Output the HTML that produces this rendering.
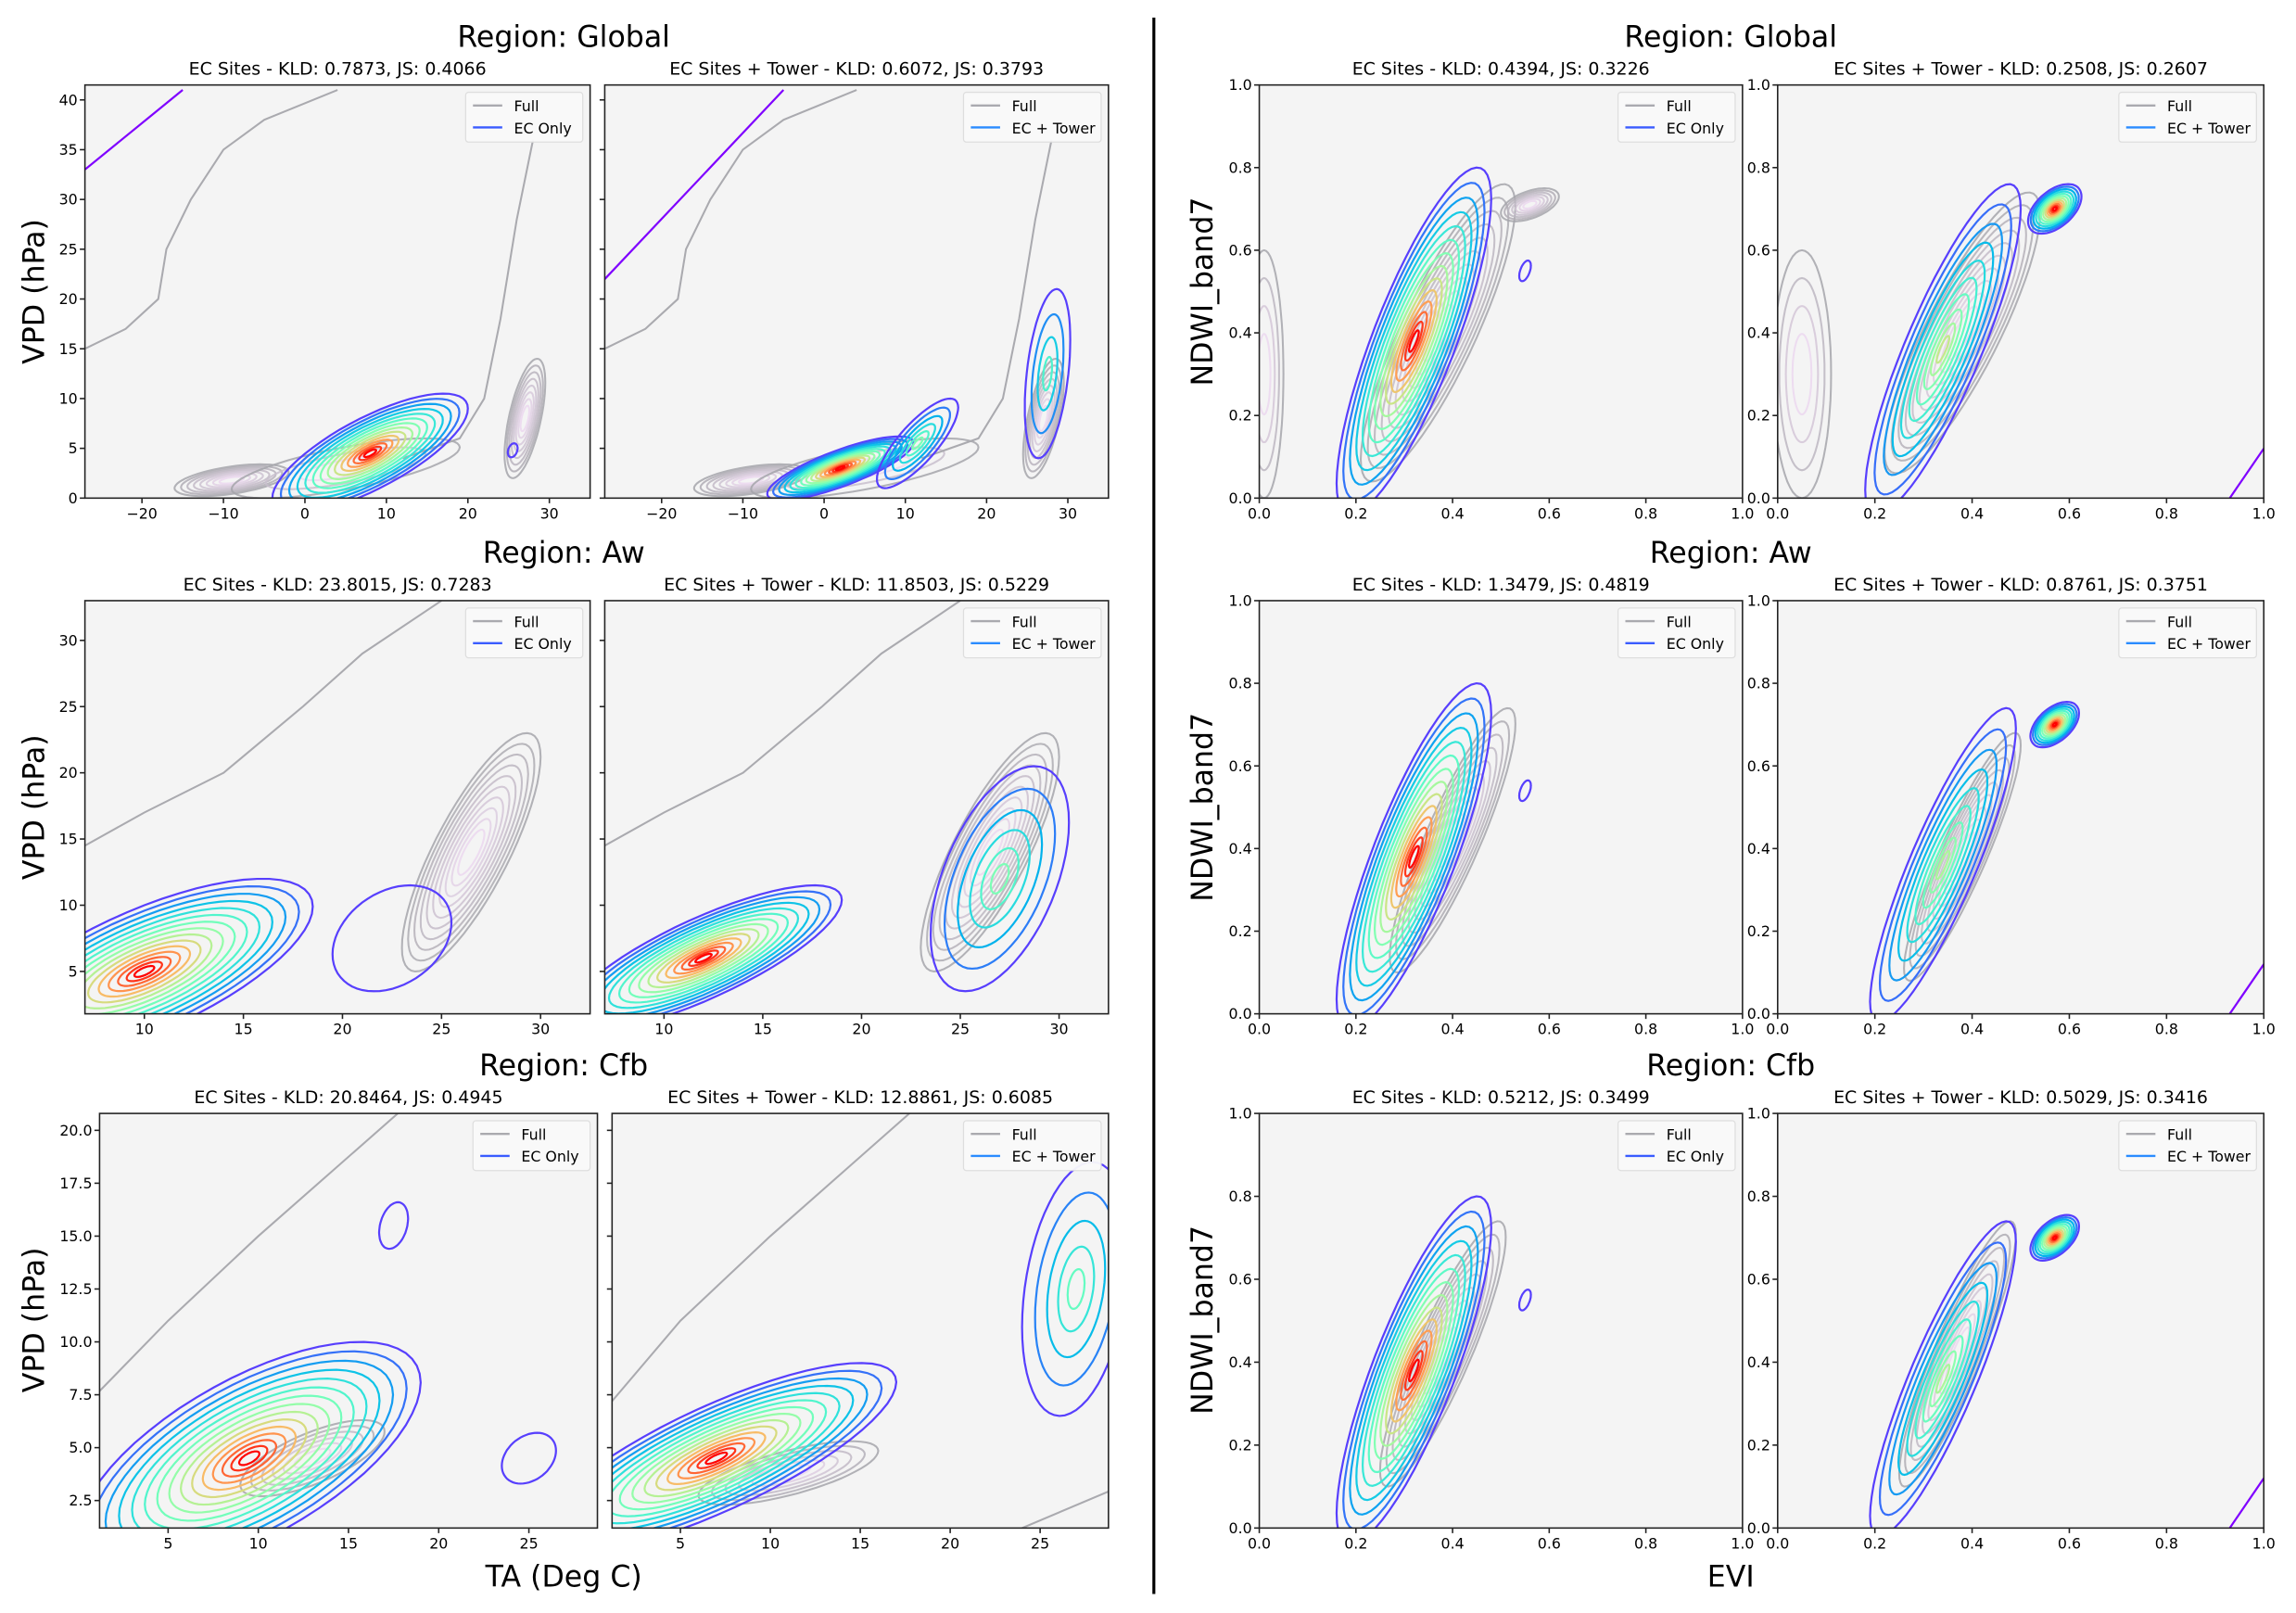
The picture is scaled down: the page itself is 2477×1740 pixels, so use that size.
<!DOCTYPE html>
<html><head><meta charset="utf-8">
<style>
html,body{margin:0;padding:0;background:#fff;}
svg{display:block;font-family:"DejaVu Sans","Liberation Sans",sans-serif;}
</style></head>
<body>
<svg id="fig" width="2477" height="1740" viewBox="0 0 1568 1101" preserveAspectRatio="none" xmlns="http://www.w3.org/2000/svg">
<line x1="788" y1="12" x2="788" y2="1088" stroke="#000" stroke-width="2"/>
<text x="385" y="32" font-size="20" text-anchor="middle">Region: Global</text>
<text x="385" y="384" font-size="20" text-anchor="middle">Region: Aw</text>
<text x="385" y="734" font-size="20" text-anchor="middle">Region: Cfb</text>
<text x="1182" y="32" font-size="20" text-anchor="middle">Region: Global</text>
<text x="1182" y="384" font-size="20" text-anchor="middle">Region: Aw</text>
<text x="1182" y="734" font-size="20" text-anchor="middle">Region: Cfb</text>
<text x="385" y="1083" font-size="20" text-anchor="middle">TA (Deg C)</text>
<text x="1182" y="1083" font-size="20" text-anchor="middle">EVI</text>
<text transform="translate(30,199) rotate(-90)" font-size="20" text-anchor="middle">VPD (hPa)</text>
<text transform="translate(30,551) rotate(-90)" font-size="20" text-anchor="middle">VPD (hPa)</text>
<text transform="translate(30,901) rotate(-90)" font-size="20" text-anchor="middle">VPD (hPa)</text>
<text transform="translate(828,199) rotate(-90)" font-size="20" text-anchor="middle">NDWI_band7</text>
<text transform="translate(828,551) rotate(-90)" font-size="20" text-anchor="middle">NDWI_band7</text>
<text transform="translate(828,901) rotate(-90)" font-size="20" text-anchor="middle">NDWI_band7</text>
</svg>
<script>
// ---- data: blobs are [cx, cy, sx, sy, rho, levels, maxColor] in data units ----
const gA_ec = [[8,4.5,12,6,0.75,14,1],[25.5,4.8,0.6,0.7,0.3,1,0]];
const gA_full = [[-9,1.8,7,1.6,0.5,8],[27,8,2.5,6,0.6,8],[5,3,14,3,0.7,3]];
const gA_line = [[-27,33],[-15,41]];
const gA_grayLines = [[[-27,15],[-22,17],[-18,20],[-17,25],[-14,30],[-10,35],[-5,38],[4,41]],[[28,36],[26,28],[24,18],[22,10],[19,6],[12,4]]];
const gB_ec = [[2,3,9,3.2,0.8,15,1],[11.5,5.5,5,4.5,0.8,6,0.45],[27.5,12.5,2.8,8.5,0.4,4,0.35]];
const gB_full = [[-9,1.8,7,1.6,0.5,8],[27,8,2.5,6,0.6,8],[5,3,14,3,0.7,3]];
const gB_line = [[-27,22],[-5,41]];
const gB_grayLines = [[[-27,15],[-22,17],[-18,20],[-17,25],[-14,30],[-10,35],[-5,38],[4,41]],[[28,36],[26,28],[24,18],[22,10],[19,6],[12,4]]];

const aA_ec = [[10,5,8.5,7,0.7,15,1],[22.5,7.5,3,4,0.3,1,0]];
const aA_full = [[26.5,14,3.5,9,0.8,10]];
const aA_line = [];
const aA_grayLines = [[[7,14.5],[10,17],[14,20],[18,25],[21,29],[25,33]]];
const aB_ec = [[12,6,7,5.5,0.8,15,1],[27,12,3.5,8.5,0.5,6,0.45]];
const aB_full = [[26.5,14,3.5,9,0.8,10]];
const aB_line = [];
const aB_grayLines = [[[7,14.5],[10,17],[14,20],[18,25],[21,29],[25,33]]];

const cA_ec = [[9.5,4.5,9.5,5.5,0.65,15,1],[25,4.5,1.5,1.2,0.3,1,0],[17.5,15.5,0.8,1.1,0.3,1,0]];
const cA_full = [[13,4.5,4,1.8,0.7,6]];
const cA_line = [];
const cA_grayLines = [[[1,7.5],[5,11],[10,15],[14,18],[18,21]]];
const cB_ec = [[7,4.5,10,4.5,0.8,15,1],[27,12.5,3,6,0.3,5,0.4]];
const cB_full = [[11,3.8,5,1.5,0.7,6]];
const cB_line = [];
const cB_grayLines = [[[1,7],[5,11],[10,15],[14,18],[18,21]],[[24,1.2],[29,3]]];

const rgA_ec = [[0.32,0.38,0.16,0.42,0.82,14,1],[0.55,0.55,0.012,0.025,0.5,1,0]];
const rgA_full = [[0.37,0.4,0.16,0.36,0.85,10],[0.56,0.71,0.06,0.04,0.5,7],[0.01,0.3,0.04,0.3,0,4]];
const rgA_line = [];
const rgA_grayLines = [];
const rgB_ec = [[0.34,0.36,0.16,0.4,0.85,10,0.6],[0.57,0.7,0.055,0.06,0.5,12,1]];
const rgB_full = [[0.38,0.4,0.16,0.34,0.85,10],[0.05,0.3,0.06,0.3,0,4]];
const rgB_line = [[0.93,0],[1,0.12]];
const rgB_grayLines = [];

const raA_ec = [[0.32,0.38,0.16,0.42,0.82,14,1],[0.55,0.54,0.012,0.025,0.5,1,0]];
const raA_full = [[0.4,0.42,0.13,0.32,0.88,9]];
const raA_line = [];
const raA_grayLines = [];
const raB_ec = [[0.34,0.36,0.15,0.38,0.87,9,0.55],[0.57,0.7,0.05,0.055,0.5,12,1]];
const raB_full = [[0.38,0.38,0.12,0.3,0.9,9]];
const raB_line = [[0.93,0],[1,0.12]];
const raB_grayLines = [];

const rcA_ec = [[0.32,0.38,0.16,0.42,0.82,14,1],[0.55,0.55,0.012,0.025,0.5,1,0]];
const rcA_full = [[0.38,0.42,0.13,0.32,0.88,9]];
const rcA_line = [];
const rcA_grayLines = [];
const rcB_ec = [[0.34,0.36,0.15,0.38,0.87,9,0.55],[0.57,0.7,0.05,0.055,0.5,12,1]];
const rcB_full = [[0.37,0.42,0.12,0.32,0.9,9]];
const rcB_line = [[0.93,0],[1,0.12]];
const rcB_grayLines = [];

const vpdGlobalXTicks = [-20,-10,0,10,20,30];
const vpdGlobalYTicks = [0,5,10,15,20,25,30,35,40];
const vpdAwXTicks = [10,15,20,25,30];
const vpdAwYTicks = [5,10,15,20,25,30];
const vpdCfbXTicks = [5,10,15,20,25];
const vpdCfbYTicks = [2.5,5.0,7.5,10.0,12.5,15.0,17.5,20.0];
const eviTicks = [0.0,0.2,0.4,0.6,0.8,1.0];

const subtitles = ["EC Sites - KLD: 0.7873, JS: 0.4066","EC Sites + Tower - KLD: 0.6072, JS: 0.3793",
"EC Sites - KLD: 23.8015, JS: 0.7283","EC Sites + Tower - KLD: 11.8503, JS: 0.5229",
"EC Sites - KLD: 20.8464, JS: 0.4945","EC Sites + Tower - KLD: 12.8861, JS: 0.6085",
"EC Sites - KLD: 0.4394, JS: 0.3226","EC Sites + Tower - KLD: 0.2508, JS: 0.2607",
"EC Sites - KLD: 1.3479, JS: 0.4819","EC Sites + Tower - KLD: 0.8761, JS: 0.3751",
"EC Sites - KLD: 0.5212, JS: 0.3499","EC Sites + Tower - KLD: 0.5029, JS: 0.3416"];

const NS="http://www.w3.org/2000/svg";
const svg=document.getElementById('fig');
function mk(tag,attrs,parent){const e=document.createElementNS(NS,tag);for(const k in attrs)e.setAttribute(k,attrs[k]);(parent||svg).appendChild(e);return e;}

const panels=[
 {x0:58,x1:403,y0:58,y1:340,xd:[-27,35],yd:[0,41.5],xt:vpdGlobalXTicks,yt:vpdGlobalYTicks,yl:true,dec:0,ec:gA_ec,full:gA_full,pl:gA_line,gl:gA_grayLines,leg:"EC Only",name:"global-ec-only"},
 {x0:413,x1:757,y0:58,y1:340,xd:[-27,35],yd:[0,41.5],xt:vpdGlobalXTicks,yt:vpdGlobalYTicks,yl:false,dec:0,ec:gB_ec,full:gB_full,pl:gB_line,gl:gB_grayLines,leg:"EC + Tower",name:"global-ec-tower"},
 {x0:58,x1:403,y0:410,y1:692,xd:[7,32.5],yd:[1.8,33],xt:vpdAwXTicks,yt:vpdAwYTicks,yl:true,dec:0,ec:aA_ec,full:aA_full,pl:aA_line,gl:aA_grayLines,leg:"EC Only",name:"aw-ec-only"},
 {x0:413,x1:757,y0:410,y1:692,xd:[7,32.5],yd:[1.8,33],xt:vpdAwXTicks,yt:vpdAwYTicks,yl:false,dec:0,ec:aB_ec,full:aB_full,pl:aB_line,gl:aB_grayLines,leg:"EC + Tower",name:"aw-ec-tower"},
 {x0:68,x1:408,y0:760,y1:1043,xd:[1.2,28.8],yd:[1.2,20.8],xt:vpdCfbXTicks,yt:vpdCfbYTicks,yl:true,dec:1,ec:cA_ec,full:cA_full,pl:cA_line,gl:cA_grayLines,leg:"EC Only",name:"cfb-ec-only"},
 {x0:418,x1:757,y0:760,y1:1043,xd:[1.2,28.8],yd:[1.2,20.8],xt:vpdCfbXTicks,yt:vpdCfbYTicks,yl:false,dec:1,ec:cB_ec,full:cB_full,pl:cB_line,gl:cB_grayLines,leg:"EC + Tower",name:"cfb-ec-tower"},
 {x0:860,x1:1190,y0:58,y1:340,xd:[0,1],yd:[0,1],xt:eviTicks,yt:eviTicks,yl:true,dec:1,ec:rgA_ec,full:rgA_full,pl:rgA_line,gl:rgA_grayLines,leg:"EC Only",name:"evi-global-ec-only"},
 {x0:1214,x1:1546,y0:58,y1:340,xd:[0,1],yd:[0,1],xt:eviTicks,yt:eviTicks,yl:true,dec:1,ec:rgB_ec,full:rgB_full,pl:rgB_line,gl:rgB_grayLines,leg:"EC + Tower",name:"evi-global-ec-tower"},
 {x0:860,x1:1190,y0:410,y1:692,xd:[0,1],yd:[0,1],xt:eviTicks,yt:eviTicks,yl:true,dec:1,ec:raA_ec,full:raA_full,pl:raA_line,gl:raA_grayLines,leg:"EC Only",name:"evi-aw-ec-only"},
 {x0:1214,x1:1546,y0:410,y1:692,xd:[0,1],yd:[0,1],xt:eviTicks,yt:eviTicks,yl:true,dec:1,ec:raB_ec,full:raB_full,pl:raB_line,gl:raB_grayLines,leg:"EC + Tower",name:"evi-aw-ec-tower"},
 {x0:860,x1:1190,y0:760,y1:1043,xd:[0,1],yd:[0,1],xt:eviTicks,yt:eviTicks,yl:true,dec:1,ec:rcA_ec,full:rcA_full,pl:rcA_line,gl:rcA_grayLines,leg:"EC Only",name:"evi-cfb-ec-only"},
 {x0:1214,x1:1546,y0:760,y1:1043,xd:[0,1],yd:[0,1],xt:eviTicks,yt:eviTicks,yl:true,dec:1,ec:rcB_ec,full:rcB_full,pl:rcB_line,gl:rcB_grayLines,leg:"EC + Tower",name:"evi-cfb-ec-tower"}
];

function rainbowColor(t){
 const R=Math.round(255*Math.min(1,Math.max(0,Math.abs(2*t-0.5)))),G=Math.round(255*Math.sin(Math.PI*t)),B=Math.round(255*Math.cos(Math.PI*t/2));
 return `rgb(${R},${G},${B})`;
}
function fullColor(t){const a=[165,165,170],b=[235,215,238];
 return `rgb(${a.map((v,i)=>Math.round(v+(b[i]-v)*t)).join(',')})`;}

panels.forEach((p,i)=>{
 const sx=v=>p.x0+(v-p.xd[0])/(p.xd[1]-p.xd[0])*(p.x1-p.x0);
 const sy=v=>p.y1-(v-p.yd[0])/(p.yd[1]-p.yd[0])*(p.y1-p.y0);
 const g=mk('g',{});
 
 
 const cid='clip'+i;
 const cp=mk('clipPath',{id:cid},g);mk('rect',{x:p.x0,y:p.y0,width:p.x1-p.x0,height:p.y1-p.y0},cp);
 const bg=mk('rect',{x:p.x0,y:p.y0,width:p.x1-p.x0,height:p.y1-p.y0,fill:'#f4f4f4'},g);
 
 
 const pg=mk('g',{'clip-path':`url(#${cid})`},g);
 function blobPath(b,s){let d='';for(let k=0;k<=60;k++){const t=k/60*2*Math.PI;
   const X=b[0]+b[2]*s*Math.cos(t), Y=b[1]+b[3]*s*(b[4]*Math.cos(t)+Math.sqrt(1-b[4]*b[4])*Math.sin(t));
   d+=(k?'L':'M')+sx(X).toFixed(1)+','+sy(Y).toFixed(1);}return d+'Z';}
 p.full.forEach(b=>{const n=b[5];for(let k=0;k<n;k++){const s=1-k/n*0.9;
   const e=mk('path',{d:blobPath(b,s),fill:'none',stroke:fullColor(n>1?k/(n-1):0),'stroke-width':1.3,opacity:0.85},pg);
   
   }});
 p.gl.forEach(l=>{const e=mk('polyline',{points:l.map(q=>sx(q[0])+','+sy(q[1])).join(' '),fill:'none',stroke:'#aaaaaf','stroke-width':1.3},pg);
   
   });
 p.ec.forEach(b=>{const n=b[5];for(let k=0;k<n;k++){const s=Math.pow(1-k/n*0.95,1.3);
   const t=n>1?k/(n-1)*b[6]:0;
   const e=mk('path',{d:blobPath(b,s),fill:'none',stroke:rainbowColor(0.08+t*0.92),'stroke-width':1.4},pg);
   
   }});
 if(p.pl.length){const e=mk('polyline',{points:p.pl.map(q=>sx(q[0])+','+sy(q[1])).join(' '),fill:'none',stroke:'#7f00ff','stroke-width':1.4},pg);
   
   }
 const fr=mk('rect',{x:p.x0,y:p.y0,width:p.x1-p.x0,height:p.y1-p.y0,fill:'none',stroke:'#222','stroke-width':1},g);
 
 
 p.xt.forEach(v=>{const X=sx(v);mk('line',{x1:X,x2:X,y1:p.y1,y2:p.y1+3.5,stroke:'#222'},g);
   const t=mk('text',{x:X,y:p.y1+14,'font-size':10,'text-anchor':'middle'},g);
   t.textContent=(v<0?'\u2212'+(-v):(p.dec&&p.xd[1]<=1?v.toFixed(1):String(v)));
   
   });
 p.yt.forEach(v=>{const Y=sy(v);mk('line',{x1:p.x0-3.5,x2:p.x0,y1:Y,y2:Y,stroke:'#222'},g);
   if(p.yl){const t=mk('text',{x:p.x0-5,y:Y+3.5,'font-size':10,'text-anchor':'end'},g);
   t.textContent=p.dec?v.toFixed(1):String(v);
   
   }});
 const st=mk('text',{x:(p.x0+p.x1)/2,y:p.y0-7,'font-size':12,'text-anchor':'middle'},g);
 st.textContent=subtitles[i];
 
 
 const lw=p.leg==="EC Only"?80:94, lx=p.x1-lw-5, ly=p.y0+5;
 const lg=mk('g',{},g);
 
 
 mk('rect',{x:lx,y:ly,width:lw,height:34,rx:2,fill:'#fafafa',stroke:'#ddd','stroke-width':0.8,opacity:0.95},lg);
 mk('line',{x1:lx+5,x2:lx+25,y1:ly+9,y2:ly+9,stroke:'#aaaaaf','stroke-width':1.5},lg);
 mk('line',{x1:lx+5,x2:lx+25,y1:ly+24,y2:ly+24,stroke:p.leg==="EC Only"?'#3a5cff':'#2a8cff','stroke-width':1.5},lg);
 const t1=mk('text',{x:lx+33,y:ly+13,'font-size':10},lg);t1.textContent='Full';
 
 
 const t2=mk('text',{x:lx+33,y:ly+28,'font-size':10},lg);t2.textContent=p.leg;
 
 
});
</script>
</body></html>
